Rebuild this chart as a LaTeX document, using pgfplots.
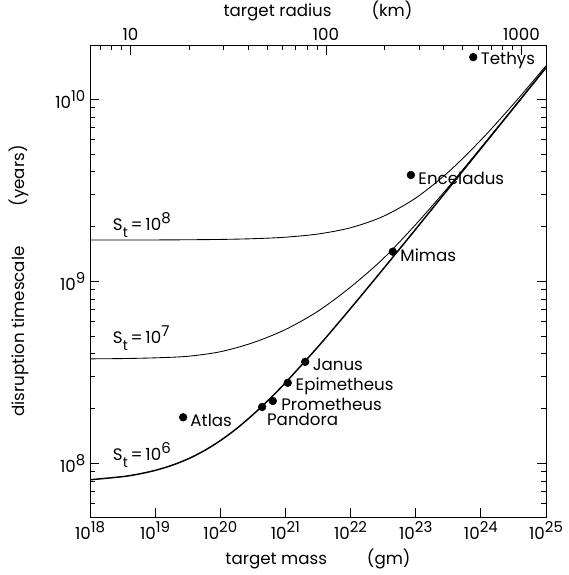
\documentclass[border=0pt]{standalone}
\usepackage{fontspec}
\setmainfont{Poppins}
\usepackage{pgfplots}
\usepackage{pgfplotstable}
\pgfplotsset{compat=1.18}
\newcommand{\pw}[1]{10\raisebox{0.42em}{\fontsize{11.2}{11.2}\selectfont#1}}
\newcommand{\St}[1]{S\raisebox{-0.45em}{\fontsize{10.5}{10.5}\selectfont t}\,=\,\pw{#1}}

% target mass [gm], disruption timescale [yr]
\pgfplotstableread{
M t
1e18 8.118e7
3.162e18 8.447e7
5.623e18 8.731e7
1e19 9.141e7
1.778e19 9.725e7
3.162e19 1.055e8
5.623e19 1.171e8
1e20 1.332e8
1.778e20 1.551e8
3.162e20 1.849e8
5.623e20 2.245e8
1e21 2.772e8
3.162e21 4.372e8
1e22 7.098e8
3.162e22 1.168e9
1e23 1.936e9
3.162e23 3.222e9
1e24 5.364e9
3.162e24 8.945e9
1e25 1.492e10
}\sixcurve
\pgfplotstableread{
M t
1e18 3.750e8
3.162e18 3.763e8
1e19 3.798e8
3.162e19 3.873e8
1e20 4.102e8
3.162e20 4.598e8
1e21 5.433e8
3.162e21 6.855e8
1e22 9.300e8
3.162e22 1.332e9
1e23 2.053e9
3.162e23 3.294e9
1e24 5.421e9
3.162e24 8.990e9
1e25 1.495e10
}\sevencurve
\pgfplotstableread{
M t
1e18 1.686e9
3.162e18 1.687e9
1e19 1.688e9
3.162e19 1.692e9
1e20 1.699e9
3.162e20 1.715e9
1e21 1.748e9
3.162e21 1.820e9
1e22 1.970e9
3.162e22 2.274e9
1e23 2.869e9
3.162e23 3.983e9
1e24 5.973e9
3.162e24 9.419e9
1e25 1.529e10
}\eightcurve
\pgfplotstableread{
M t
7.64e23 1.706e10
8.43e22 3.84e9
4.45e22 1.455e9
2.01e21 3.61e8
1.084e21 2.77e8
6.40e20 2.20e8
4.39e20 2.04e8
2.69e19 1.79e8
}\moons

\begin{document}
\begin{tikzpicture}[font=\fontsize{12.5}{15}\selectfont]
\useasboundingbox (-67.5pt,-43.5pt) rectangle (358.5pt,387.75pt);
\begin{axis}[
  at={(0,0)}, anchor=south west,
  scale only axis, width=342pt, height=354pt,
  xmode=log, ymode=log,
  xmin=1e18, xmax=1e25, ymin=5.07e7, ymax=1.99e10,
  xtick={1e18,1e19,1e20,1e21,1e22,1e23,1e24,1e25},
  xticklabels={\pw{18},\pw{19},\pw{20},\pw{21},\pw{22},\pw{23},\pw{24},\pw{25}},
  xminorticks=false,
  xtick pos=left,
  ytick={1e8,1e9,1e10},
  yticklabels={\pw{8},\pw{9},\pw{10}},
  minor ytick={6e7,7e7,8e7,9e7,2e8,3e8,4e8,5e8,6e8,7e8,8e8,9e8,2e9,3e9,4e9,5e9,6e9,7e9,8e9,9e9},
  ytick pos=both, yticklabel pos=left,
  tick align=inside,
  major tick length=6.75pt, minor tick length=3.75pt,
  axis line style={line width=0.7pt},
  every tick/.style={black, line width=0.6pt},
  xlabel={target mass\hspace{2.4em}(gm)},
  ylabel={disruption timescale\hspace{2.4em}(years)},
  ylabel style={at={(axis description cs:-0.156,0.5)}, anchor=center},
  clip=true,
]
\addplot[black, line width=1.1pt, smooth] table[x=M, y=t] {\sixcurve};
\addplot[black, line width=0.65pt, smooth] table[x=M, y=t] {\sevencurve};
\addplot[black, line width=0.65pt, smooth] table[x=M, y=t] {\eightcurve};
\addplot[only marks, mark=*, mark size=2.9pt, black] table[x=M, y=t] {\moons};

\node[anchor=west, inner sep=0pt, xshift=5.5pt, yshift=-2.5pt] at (axis cs:7.64e23,1.706e10) {Tethys};
\node[anchor=west, inner sep=0pt, xshift=5.5pt, yshift=-2.5pt] at (axis cs:8.43e22,3.84e9) {Enceladus};
\node[anchor=west, inner sep=0pt, xshift=5.5pt, yshift=-2.5pt] at (axis cs:4.45e22,1.455e9) {Mimas};
\node[anchor=west, inner sep=0pt, xshift=5.5pt, yshift=-2.5pt] at (axis cs:2.01e21,3.61e8) {Janus};
\node[anchor=west, inner sep=0pt, xshift=5.8pt, yshift=-2.5pt] at (axis cs:1.084e21,2.77e8) {Epimetheus};
\node[anchor=west, inner sep=0pt, xshift=6.2pt, yshift=-2.5pt] at (axis cs:6.40e20,2.20e8) {Prometheus};
\node[anchor=west, inner sep=0pt, xshift=3.5pt, yshift=-9pt] at (axis cs:4.39e20,2.04e8) {Pandora};
\node[anchor=west, inner sep=0pt, xshift=5.3pt, yshift=-2.5pt] at (axis cs:2.69e19,1.79e8) {Atlas};

\node[anchor=west, inner sep=0pt, xshift=2pt] at (axis cs:2.03e18,2.04e9) {\St{8}};
\node[anchor=west, inner sep=0pt, xshift=2pt] at (axis cs:2.03e18,4.88e8) {\St{7}};
\node[anchor=west, inner sep=0pt, xshift=2pt] at (axis cs:2.03e18,1.11e8) {\St{6}};
\end{axis}
\begin{axis}[
  at={(0,0)}, anchor=south west,
  scale only axis, width=342pt, height=354pt,
  xmode=log, xmin=6.204, xmax=1336.5, ymin=0, ymax=1,
  axis x line*=top, axis y line=none,
  xtick={10,100,1000}, xticklabels={10,100,1000},
  minor xtick={7,8,9,20,30,40,50,60,70,80,90,200,300,400,500,600,700,800,900},
  xticklabel pos=right,
  tick align=inside,
  major tick length=7.5pt, minor tick length=3.75pt,
  axis line style={line width=0.7pt},
  every tick/.style={black, line width=0.6pt},
  xlabel={target radius\hspace{2.4em}(km)},
  xlabel style={at={(axis description cs:0.5,1.072)}, anchor=center},
]
\end{axis}
\end{tikzpicture}
\end{document}
